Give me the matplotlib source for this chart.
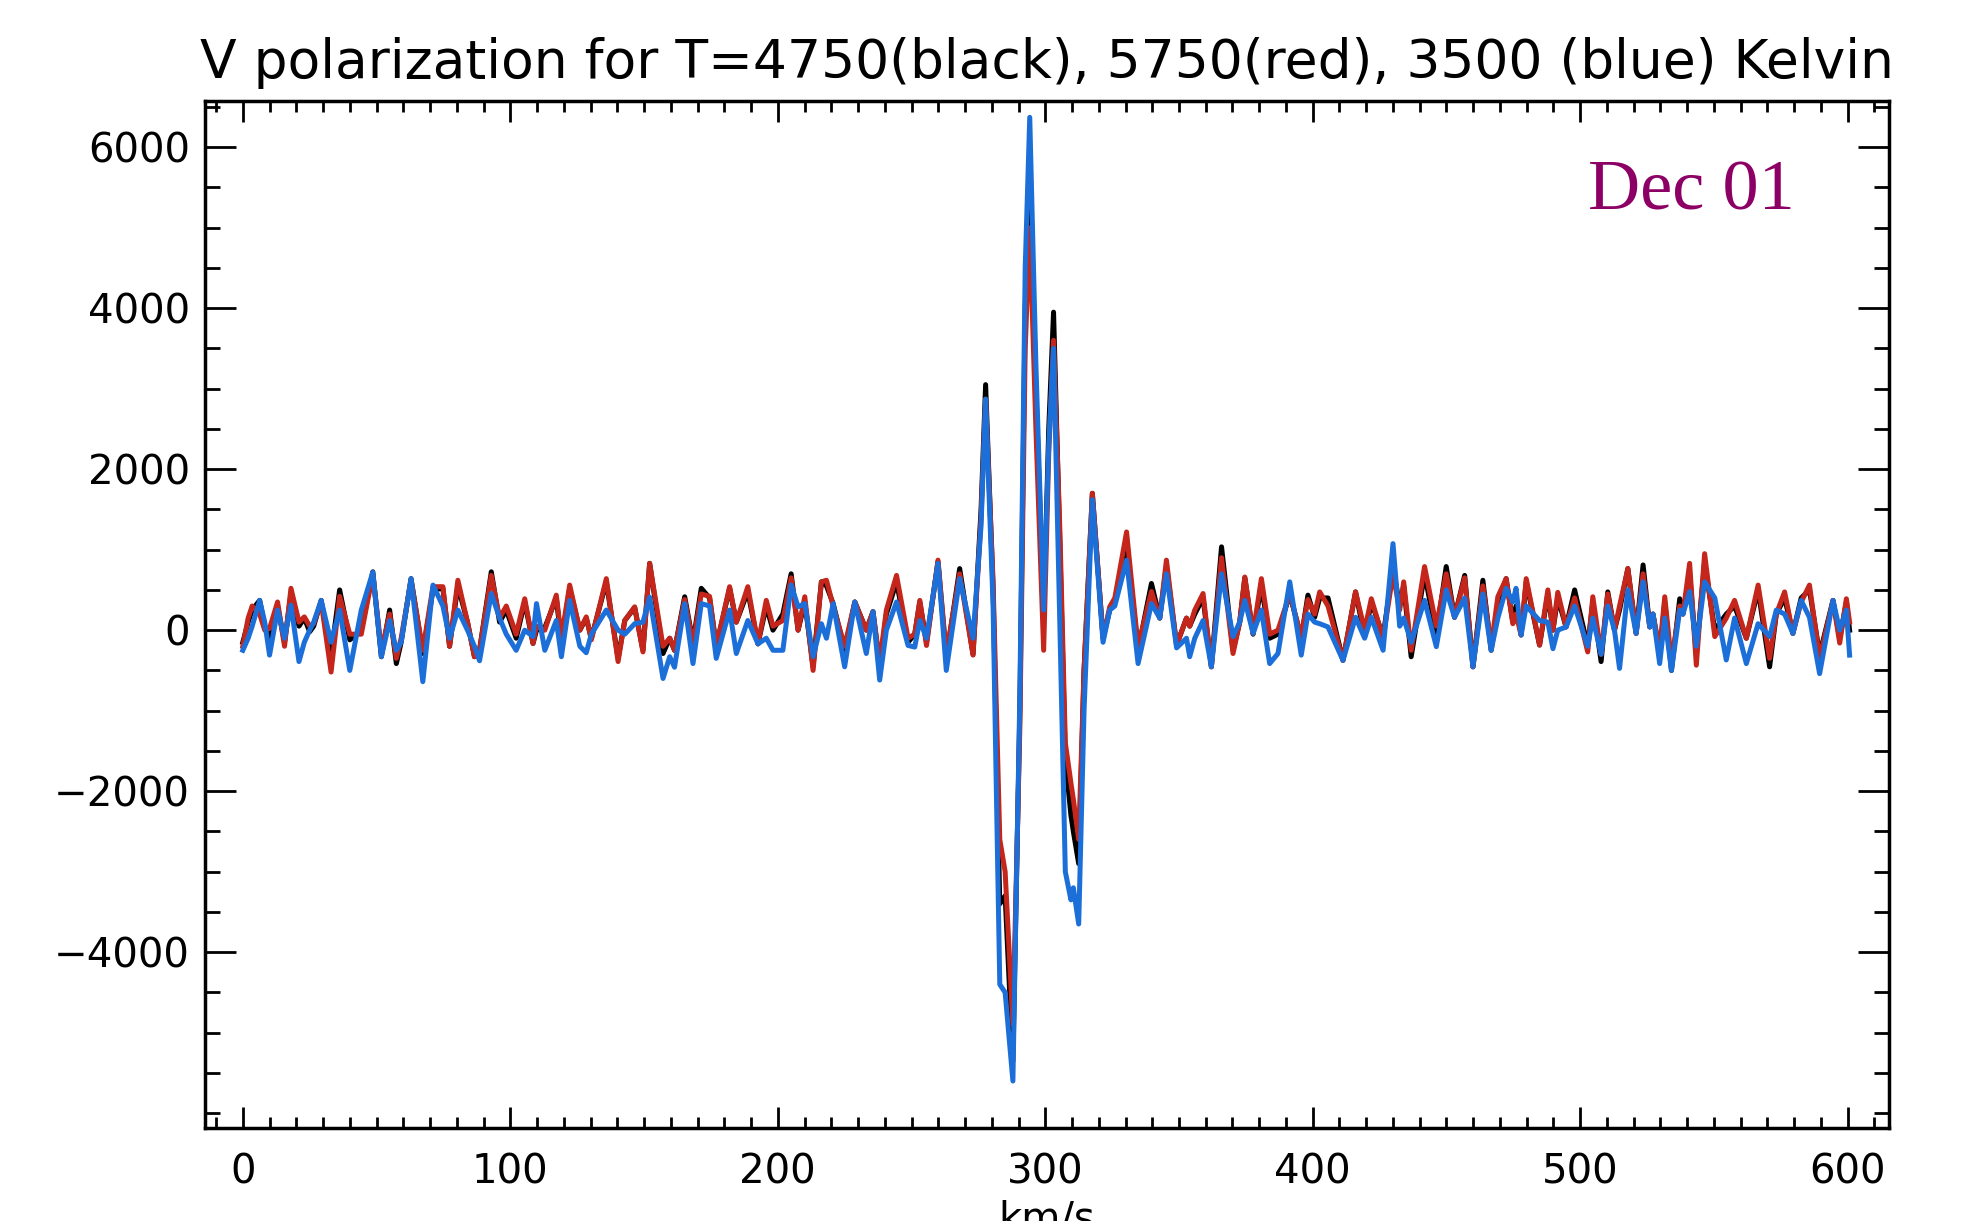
import numpy as np
import matplotlib
matplotlib.use("Agg")
import matplotlib.pyplot as plt
from matplotlib.ticker import MultipleLocator, FixedLocator


# ── Data (km/s vs V signal) ──────────────────────────────────────────────────

X_KMS = [
    0, 2, 3.5, 6.3, 8.2, 10, 13, 15.6, 18, 21, 23, 25, 26.5, 29.3, 33, 36.2,
    40, 44.3, 48.6, 51.8, 54.9, 57.4, 59.2, 62.9, 67.3, 71.1, 74.8, 77.3, 80.4,
    84, 86.6, 88.5, 92.9, 96, 98.5, 102.2, 105.4, 108.5, 109.8, 112.9, 117.2,
    119.1, 122.2, 126, 128.4, 130.3, 135.9, 140.3, 142.8, 146.5, 149.6, 152.1,
    157.1, 159.6, 161.4, 165.2, 168.3, 171.4, 174.5, 177, 182, 184.5, 188.8,
    192.6, 195.7, 198.2, 201.9, 205, 207.6, 210.1, 213.2, 216.3, 218.2, 220.7,
    225, 228.8, 233.1, 235.6, 238.1, 240.6, 244.4, 248.7, 251.2, 253.1, 255.6,
    259.9, 263, 268, 273, 276, 277.7, 280.5, 283, 285, 287.9, 290.5, 292.5,
    294.2, 296.5, 299.4, 301.3, 303.1, 305.5, 307.5, 309.6, 310.5, 312.5,
    314.5, 317.6, 321.6, 324.1, 326, 330.4, 334.7, 339.7, 342.8, 345.3, 349.1,
    352.8, 354, 355.9, 359, 362.1, 365.9, 370.2, 372.7, 374.6, 377.7, 380.8,
    383.9, 387, 391.4, 395.7, 398.2, 400.7, 402.6, 405.7, 411.3, 416, 419.4,
    421.9, 426.3, 430, 432.5, 434, 436.8, 441.8, 446.2, 449.9, 453, 456.8,
    459.9, 463.6, 466.7, 469.2, 472.3, 474.8, 476, 477.9, 479.8, 484.8, 487.9,
    489.8, 491.6, 494.7, 497.9, 502.8, 504.7, 507.8, 510.3, 512.8, 514.7,
    517.8, 520.9, 523.5, 526, 527.2, 529.7, 531.6, 534.1, 537.2, 538.4, 540.9,
    543.4, 546.5, 550.3, 554.6, 557.7, 562.1, 566.5, 570.8, 573.3, 576.4,
    579.5, 582.6, 585.7, 589.5, 594.5, 597, 599.5, 600.7,
]

# T = 4750 K (black)
V_BLACK = [
    -150, 100, 250, 370, 50, -100, 300, -150, 450, 50, 150, -20, 50, 370, -300, 500,
    -120, 0, 725, -330, 250, -415, -150, 640, -290, 500, 520, -200, 550,
    100, -330, -250, 725, 100, 250, -100, 350, -165, 0, 30, 400,
    -150, 520, 0, 150, -100, 600, -350, 120, 280, -250, 830,
    -290, -100, -250, 415, -150, 520, 400, -200, 520, 100, 480,
    -170, 300, 0, 200, 700, 0, 350, -450, 600, 550, 330,
    -250, 350, 0, 230, -455, 200, 600, -150, -50, 350, -150,
    850, -350, 765, -300, 1500, 3050, 500, -3400, -3300, -5350, -1000, 4000,
    5750, 3000, 160, 2500, 3950, 1000, -1600, -2300, -2500, -2900,
    -500, 1700, -100, 250, 350, 1100, -250, 580, 150, 800, -185,
    150, 50, 200, 400, -455, 1035, -250, 100, 650, -50, 550,
    -100, -50, 450, -100, 435, 160, 400, 400, -375, 475, -80,
    350, -80, 790, 300, 550, -330, 700, -50, 790, 160, 680,
    -455, 620, -250, 300, 640, 100, 300, -60, 600, -185, 450,
    0, 400, 40, 500, -200, 350, -390, 475, 0, 250,
    765, -40, 810, 40, 200, -300, 350, -500, 390, 200, 700,
    -300, 850, 0, 200, 300, -100, 500, -455, 200, 400,
    -40, 400, 500, -300, 370, -100, 350, 0,
]

# T = 5750 K (red)
V_RED = [
    -200, 150, 300, 200, 0, 20, 350, -200, 520, 100, 165, 50, 80, 350, -520, 420,
    -50, -50, 700, -250, 200, -350, -100, 620, -250, 540, 540, -200, 620,
    100, -330, -250, 680, 150, 300, -50, 390, -165, 50, 0, 435,
    -100, 560, 0, 165, -120, 640, -390, 120, 290, -270, 830,
    -200, -100, -250, 380, -170, 450, 420, -200, 540, 100, 540,
    -170, 370, 50, 120, 650, 0, 415, -500, 600, 620, 300,
    -200, 350, 0, 230, -400, 250, 680, -100, -50, 370, -190,
    870, -300, 700, -310, 1400, 2870, 600, -2600, -3000, -4900, -1200, 3500,
    5000, 2500, -250, 2200, 3600, 1200, -1400, -1900, -2100, -2600,
    -500, 1700, -100, 290, 400, 1220, -205, 480, 150, 870, -185,
    150, 50, 250, 455, -455, 900, -290, 100, 660, -40, 640,
    -50, 0, 450, -80, 380, 200, 475, 300, -375, 475, 0,
    390, -100, 700, 250, 600, -250, 790, 50, 700, 160, 650,
    -455, 550, -200, 415, 640, 80, 200, -60, 640, -185, 500,
    0, 470, 40, 400, -270, 415, -300, 450, 0, 300,
    765, -40, 700, 40, 200, -250, 415, -400, 300, 200, 830,
    -435, 950, -80, 150, 370, -100, 560, -350, 200, 475,
    -40, 350, 560, -350, 370, -160, 390, 100,
]

# T = 3500 K (blue)
V_BLUE = [
    -250, -100, 50, 370, 100, -310, 250, -100, 310, -390, -150, 0, 100, 370, -150, 250,
    -500, 250, 720, -330, 120, -250, -150, 640, -640, 560, 300, -100, 250,
    0, -200, -380, 455, 150, -50, -250, 0, -80, 330, -250, 120,
    -330, 370, -200, -280, -50, 250, 0, -50, 80, 100, 410,
    -600, -330, -460, 330, -415, 330, 300, -350, 250, -290, 120,
    -170, -100, -250, -250, 560, 290, 330, -330, 80, -100, 330,
    -455, 350, -290, 230, -620, 0, 350, -190, -210, 120, -100,
    830, -500, 640, -100, 1300, 2870, 300, -4400, -4500, -5600, -800, 4500,
    6370, 3300, 250, 2300, 3500, 0, -3000, -3350, -3200, -3650,
    -1000, 1620, -150, 250, 300, 870, -415, 330, 150, 700, -220,
    -100, -330, -100, 120, -455, 700, -80, 100, 370, -40, 250,
    -415, -290, 600, -310, 200, 100, 80, 40, -375, 160, -100,
    160, -250, 1075, 50, 150, -150, 370, -205, 500, 160, 400,
    -455, 450, -250, 150, 520, 350, 520, -60, 300, 120, 100,
    -230, 0, 40, 300, -200, 150, -300, 300, 0, -475,
    500, -40, 600, 40, 200, -415, 150, -500, 250, 200, 480,
    -200, 600, 400, -370, 150, -415, 80, -80, 250, 200,
    -40, 370, 160, -540, 370, 0, 250, -310,
]

SERIES = [
    ("4750 K", V_BLACK, "#000000"),
    ("5750 K", V_RED,   "#c4261b"),
    ("3500 K", V_BLUE,  "#1c6fd8"),
]

TITLE = "V polarization for T=4750(black), 5750(red), 3500 (blue) Kelvin"
DATE_LABEL = "Dec 01"
X_TICKS = [0, 100, 200, 300, 400, 500, 600]
Y_TICKS = [-4000, -2000, 0, 2000, 4000, 6000]


# ── Plot ─────────────────────────────────────────────────────────────────────

def main():
    plt.rcParams["font.family"] = ["DejaVu Sans"]

    fig = plt.figure(figsize=(19.72, 12.21), dpi=100)
    ax = fig.add_axes([0.1040, 0.0762, 0.8540, 0.8411])

    for name, values, color in SERIES:
        ax.plot(X_KMS, values, color=color, lw=3.6, solid_joinstyle="round",
                label=name)

    ax.set_xlim(-14.1, 615.5)
    ax.set_ylim(-6183, 6573)

    ax.xaxis.set_major_locator(FixedLocator(X_TICKS))
    ax.xaxis.set_minor_locator(MultipleLocator(10))
    ax.yaxis.set_major_locator(FixedLocator(Y_TICKS))
    ax.yaxis.set_minor_locator(MultipleLocator(500))

    ax.tick_params(axis="both", which="both", direction="in",
                   top=True, right=True, width=2.0, labelsize=29)
    ax.tick_params(axis="x", which="major", length=15, pad=18)
    ax.tick_params(axis="x", which="minor", length=8)
    ax.tick_params(axis="y", which="major", length=22, pad=11)
    ax.tick_params(axis="y", which="minor", length=11)

    for sp in ax.spines.values():
        sp.set_linewidth(2.5)

    ax.set_title(TITLE, fontsize=38.5, pad=16.5)
    # the reference crops the axis label at the bottom edge
    ax.set_xlabel("km/s", fontsize=29, labelpad=5)

    ax.text(0.821, 0.894, DATE_LABEL, transform=ax.transAxes,
            family=["Liberation Serif", "DejaVu Serif"], fontsize=52,
            color="#8c0066", ha="left", va="baseline")

    fig.savefig("out.png", dpi=100)
    plt.close(fig)


if __name__ == "__main__":
    main()
